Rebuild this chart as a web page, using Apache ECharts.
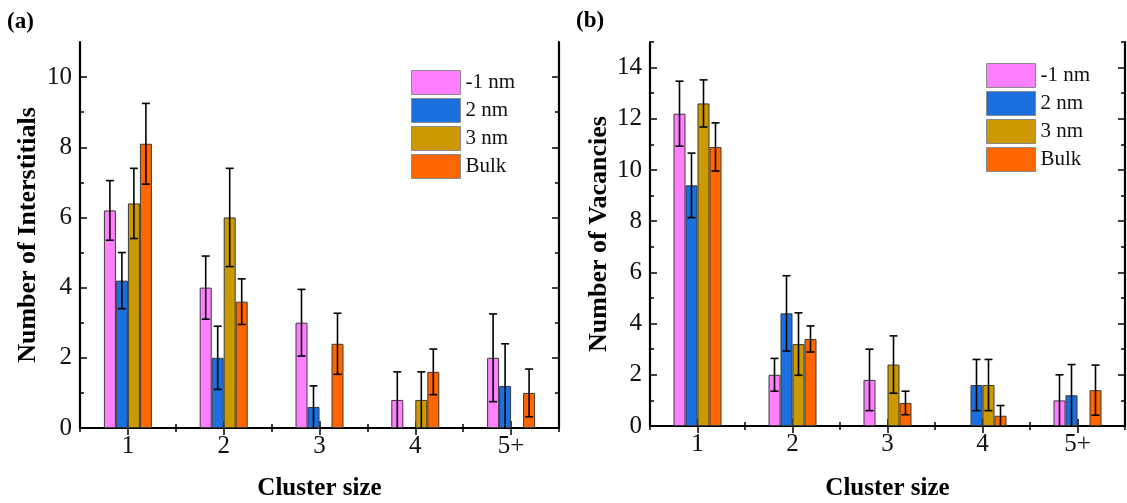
<!DOCTYPE html>
<html>
<head>
<meta charset="utf-8">
<script src="https://cdn.jsdelivr.net/npm/echarts@6/dist/echarts.min.js"></script>
<style>
  html, body { margin: 0; padding: 0; background: #ffffff; }
  #chart { width: 1127px; height: 503px; }
</style>
</head>
<body>
<div id="chart"></div>
<script>
// Cluster-size distributions of interstitials (a) and vacancies (b)
const categories = ['1', '2', '3', '4', '5+'];
const seriesNames = ['-1 nm', '2 nm', '3 nm', 'Bulk'];
const seriesColors = ['#ff80ff', '#1b6fdf', '#cc9900', '#ff6600'];

// (a) Number of interstitials, mean and error per cluster size
const intMinus1 = [6.2, 4.0, 3.0, 0.8, 2.0];
const intMinus1Err = [0.85, 0.9, 0.95, 0.8, 1.25];
const int2nm = [4.2, 2.0, 0.6, null, 1.2];
const int2nmErr = [0.8, 0.9, 0.6, null, 1.2];
const int3nm = [6.4, 6.0, null, 0.8, null];
const int3nmErr = [1.0, 1.4, null, 0.8, null];
const intBulk = [8.1, 3.6, 2.4, 1.6, 1.0];
const intBulkErr = [1.15, 0.65, 0.87, 0.65, 0.68];

// (b) Number of vacancies, mean and error per cluster size
const vacMinus1 = [12.2, 2.0, 1.8, null, 1.0];
const vacMinus1Err = [1.27, 0.64, 1.2, null, 1.0];
const vac2nm = [9.4, 4.4, null, 1.6, 1.2];
const vac2nmErr = [1.26, 1.47, null, 1.0, 1.2];
const vac3nm = [12.6, 3.2, 2.4, 1.6, null];
const vac3nmErr = [0.92, 1.22, 1.12, 1.0, null];
const vacBulk = [10.9, 3.4, 0.9, 0.4, 1.4];
const vacBulkErr = [0.94, 0.51, 0.46, 0.4, 0.98];

// Axis ticks
const intMajorTicks = [0, 2, 4, 6, 8, 10];
const intMinorTicks = [1, 3, 5, 7, 9];
const vacMajorTicks = [0, 2, 4, 6, 8, 10, 12, 14];
const vacMinorTicks = [1, 3, 5, 7, 9, 11, 13, 15];

const FONT = "'Liberation Serif', 'Times New Roman', serif";
const BAR_W = 12;
const AXIS_COLOR = '#000';

function xAxesFor(g, nameGap) {
  const common = { type: 'category', gridIndex: g, data: categories, splitLine: { show: false } };
  return [
    Object.assign({}, common, {
      position: 'bottom',
      axisLine: { show: true, lineStyle: { color: AXIS_COLOR, width: 2.2 } },
      axisTick: { show: true, inside: true, length: 4, lineStyle: { color: AXIS_COLOR, width: 1.5 } },
      axisLabel: { show: true, margin: 6, fontFamily: FONT, fontSize: 25, color: '#111' },
      name: 'Cluster size', nameLocation: 'middle', nameGap: nameGap,
      nameTextStyle: { fontFamily: FONT, fontSize: 25, fontWeight: 'bold', color: '#000' }
    }),
    Object.assign({}, common, {
      position: 'bottom',
      axisLine: { show: false },
      axisTick: { show: true, inside: true, alignWithLabel: true, length: 7, lineStyle: { color: AXIS_COLOR, width: 1.5 } },
      axisLabel: { show: false }
    }),
    Object.assign({}, common, {
      position: 'top',
      axisLine: { show: true, lineStyle: { color: AXIS_COLOR, width: 2.2 } },
      axisTick: { show: true, inside: true, length: 4, lineStyle: { color: AXIS_COLOR, width: 1.5 } },
      axisLabel: { show: false }
    }),
    Object.assign({}, common, {
      position: 'top',
      axisLine: { show: false },
      axisTick: { show: true, inside: true, alignWithLabel: true, length: 7, lineStyle: { color: AXIS_COLOR, width: 1.5 } },
      axisLabel: { show: false }
    })
  ];
}

function yAxesFor(g, max, major, minor, title, nameGap) {
  const common = { type: 'value', gridIndex: g, min: 0, max: max, splitLine: { show: false } };
  return [
    Object.assign({}, common, {
      position: 'left',
      axisLine: { show: true, lineStyle: { color: AXIS_COLOR, width: 2.2 } },
      axisTick: { show: true, inside: true, length: 7, customValues: major, lineStyle: { color: AXIS_COLOR, width: 1.5 } },
      axisLabel: { show: true, margin: 8, customValues: major, fontFamily: FONT, fontSize: 25, color: '#111' },
      name: title, nameLocation: 'middle', nameGap: nameGap,
      nameTextStyle: { fontFamily: FONT, fontSize: 26, fontWeight: 'bold', color: '#000' }
    }),
    Object.assign({}, common, {
      position: 'left',
      axisLine: { show: false },
      axisTick: { show: true, inside: true, length: 4, customValues: minor, lineStyle: { color: AXIS_COLOR, width: 1.5 } },
      axisLabel: { show: false }
    }),
    Object.assign({}, common, {
      position: 'right',
      axisLine: { show: true, lineStyle: { color: AXIS_COLOR, width: 2.2 } },
      axisTick: { show: true, inside: true, length: 7, customValues: major, lineStyle: { color: AXIS_COLOR, width: 1.5 } },
      axisLabel: { show: false }
    }),
    Object.assign({}, common, {
      position: 'right',
      axisLine: { show: false },
      axisTick: { show: true, inside: true, length: 4, customValues: minor, lineStyle: { color: AXIS_COLOR, width: 1.5 } },
      axisLabel: { show: false }
    })
  ];
}

function barSeries(g, k, values) {
  return {
    type: 'bar',
    name: seriesNames[k],
    xAxisIndex: g * 4,
    yAxisIndex: g * 4,
    barWidth: BAR_W,
    barGap: '0%',
    data: values,
    itemStyle: { color: seriesColors[k], borderColor: '#3a3a3a', borderWidth: 1 },
    z: 2
  };
}

function errorSeries(g, k, values, errs) {
  const data = [];
  values.forEach(function (v, i) {
    if (v !== null && errs[i] !== null) data.push([i, v, errs[i]]);
  });
  return {
    type: 'custom',
    name: 'err ' + seriesNames[k],
    xAxisIndex: g * 4,
    yAxisIndex: g * 4,
    z: 4,
    clip: true,
    data: data,
    renderItem: function (params, api) {
      const idx = api.value(0);
      const v = api.value(1);
      const e = api.value(2);
      const layout = api.barLayout({ count: 4, barWidth: BAR_W, barGap: '0%' });
      const dx = layout[k].offsetCenter;
      const hi = api.coord([idx, v + e]);
      const lo = api.coord([idx, Math.max(0, v - e)]);
      const x = hi[0] + dx;
      const cap = 4;
      const style = { stroke: '#000', lineWidth: 1.6 };
      const children = [
        { type: 'line', shape: { x1: x, y1: hi[1], x2: x, y2: lo[1] }, style: style },
        { type: 'line', shape: { x1: x - cap, y1: hi[1], x2: x + cap, y2: hi[1] }, style: style }
      ];
      if (v - e > 0) {
        children.push({ type: 'line', shape: { x1: x - cap, y1: lo[1], x2: x + cap, y2: lo[1] }, style: style });
      }
      return { type: 'group', children: children };
    }
  };
}

const intValues = [intMinus1, int2nm, int3nm, intBulk];
const intErrors = [intMinus1Err, int2nmErr, int3nmErr, intBulkErr];
const vacValues = [vacMinus1, vac2nm, vac3nm, vacBulk];
const vacErrors = [vacMinus1Err, vac2nmErr, vac3nmErr, vacBulkErr];

const series = [];
intValues.forEach(function (vals, k) { series.push(barSeries(0, k, vals)); });
vacValues.forEach(function (vals, k) { series.push(barSeries(1, k, vals)); });
intValues.forEach(function (vals, k) { series.push(errorSeries(0, k, vals, intErrors[k])); });
vacValues.forEach(function (vals, k) { series.push(errorSeries(1, k, vals, vacErrors[k])); });

function legendAt(left, top) {
  return {
    data: seriesNames,
    left: left,
    top: top,
    orient: 'vertical',
    icon: 'rect',
    itemWidth: 49,
    itemHeight: 24,
    itemGap: 3,
    padding: 0,
    selectedMode: false,
    itemStyle: { borderColor: '#8a8a8a', borderWidth: 1 },
    textStyle: { fontFamily: FONT, fontSize: 21, color: '#111' }
  };
}

const chart = echarts.init(document.getElementById('chart'), null, { renderer: 'canvas' });
chart.setOption({
  animation: false,
  backgroundColor: '#ffffff',
  grid: [
    { left: 80, top: 42, width: 479, height: 386, outerBoundsMode: 'none' },
    { left: 650, top: 42, width: 475, height: 384, outerBoundsMode: 'none' }
  ],
  xAxis: xAxesFor(0, 48).concat(xAxesFor(1, 50)),
  yAxis: yAxesFor(0, 11, intMajorTicks, intMinorTicks, 'Number of Interstitials', 39)
    .concat(yAxesFor(1, 15, vacMajorTicks, vacMinorTicks, 'Number of Vacancies', 38)),
  legend: [legendAt(411, 70), legendAt(986, 63)],
  graphic: [
    { type: 'text', left: 7, top: 11, style: { text: '(a)', font: "bold 23px 'Liberation Serif', serif", fill: '#000' } },
    { type: 'text', left: 576, top: 10, style: { text: '(b)', font: "bold 23px 'Liberation Serif', serif", fill: '#000' } }
  ],
  series: series
});
</script>
</body>
</html>
